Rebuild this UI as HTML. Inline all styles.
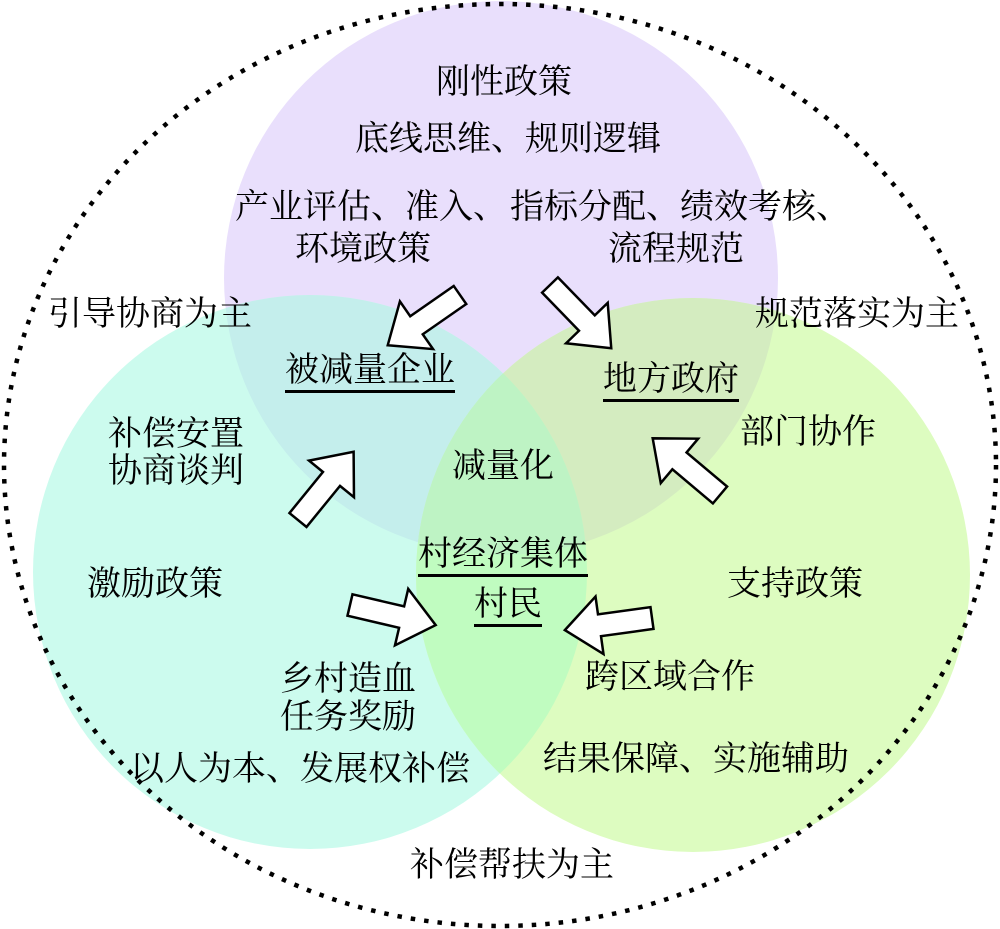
<!DOCTYPE html>
<html><head><meta charset="utf-8"><style>
body{margin:0;background:#fff}
#w{position:relative;width:1000px;height:929px;overflow:hidden;font-family:"Liberation Serif","Noto Serif CJK SC",serif;font-size:34px;color:#000}
.t{position:absolute;line-height:34px;white-space:nowrap}
.u{border-bottom:3px solid #000;padding-bottom:2px}
svg{position:absolute;left:0;top:0}
</style></head><body><div id="w">
<svg width="1000" height="929">
<defs>
<clipPath id="cP"><circle cx="501" cy="278" r="277"/></clipPath>
<clipPath id="cC"><circle cx="310" cy="572" r="277"/></clipPath>
<clipPath id="cG"><circle cx="693" cy="575" r="277"/></clipPath>
<path id="ar" d="M0,-11 H0 L53,-11 L53,-29 L88,0 L53,29 L53,11 L0,11 Z"/>
</defs>
<circle cx="501" cy="278" r="277" fill="#e9dffc"/>
<circle cx="310" cy="572" r="277" fill="#ccfbee"/>
<circle cx="693" cy="575" r="277" fill="#ddfcc0"/>
<g clip-path="url(#cP)"><circle cx="310" cy="572" r="277" fill="#c4eeec"/><circle cx="693" cy="575" r="277" fill="#d4ecc0"/></g>
<g clip-path="url(#cC)"><circle cx="693" cy="575" r="277" fill="#c0fcc0"/></g>
<g clip-path="url(#cC)"><g clip-path="url(#cG)"><circle cx="501" cy="278" r="277" fill="#bef3c4"/></g></g>
<ellipse cx="500" cy="465" rx="496" ry="461" fill="none" stroke="#000" stroke-width="4.5" stroke-dasharray="4.5 9"/>
<g fill="#fff" stroke="#000" stroke-width="2.5" stroke-linejoin="miter">
<use href="#ar" transform="translate(460,295) rotate(145.2)"/>
<use href="#ar" transform="translate(550,285) rotate(45.9)"/>
<use href="#ar" transform="translate(298,520) rotate(-50.8)"/>
<use href="#ar" transform="translate(720,495) rotate(220.1)"/>
<use href="#ar" transform="translate(350,605) rotate(13.2)"/>
<use href="#ar" transform="translate(652,618) rotate(172.1)"/>
</g>
</svg>
<div class="t" style="left:436px;top:66px">刚性政策</div>
<div class="t" style="left:355px;top:123px">底线思维、规则逻辑</div>
<div class="t" style="left:235px;top:191px">产业评估、准入、</div>
<div class="t" style="left:295px;top:233px">环境政策</div>
<div class="t" style="left:510px;top:191px">指标分配、绩效考核、</div>
<div class="t" style="left:608px;top:233px">流程规范</div>
<div class="t" style="left:48px;top:298px">引导协商为主</div>
<div class="t" style="left:755px;top:298px">规范落实为主</div>
<div class="t u" style="left:285px;top:354px">被减量企业</div>
<div class="t u" style="left:603px;top:363px">地方政府</div>
<div class="t" style="left:108px;top:418px">补偿安置</div>
<div class="t" style="left:108px;top:455px">协商谈判</div>
<div class="t" style="left:452px;top:450px">减量化</div>
<div class="t" style="left:740px;top:416px">部门协作</div>
<div class="t u" style="left:418px;top:538px">村经济集体</div>
<div class="t u" style="left:474px;top:588px">村民</div>
<div class="t" style="left:87px;top:568px">激励政策</div>
<div class="t" style="left:727px;top:568px">支持政策</div>
<div class="t" style="left:280px;top:663px">乡村造血</div>
<div class="t" style="left:280px;top:701px">任务奖励</div>
<div class="t" style="left:585px;top:661px">跨区域合作</div>
<div class="t" style="left:130px;top:753px">以人为本、发展权补偿</div>
<div class="t" style="left:543px;top:743px">结果保障、实施辅助</div>
<div class="t" style="left:410px;top:849px">补偿帮扶为主</div>
</div></body></html>
